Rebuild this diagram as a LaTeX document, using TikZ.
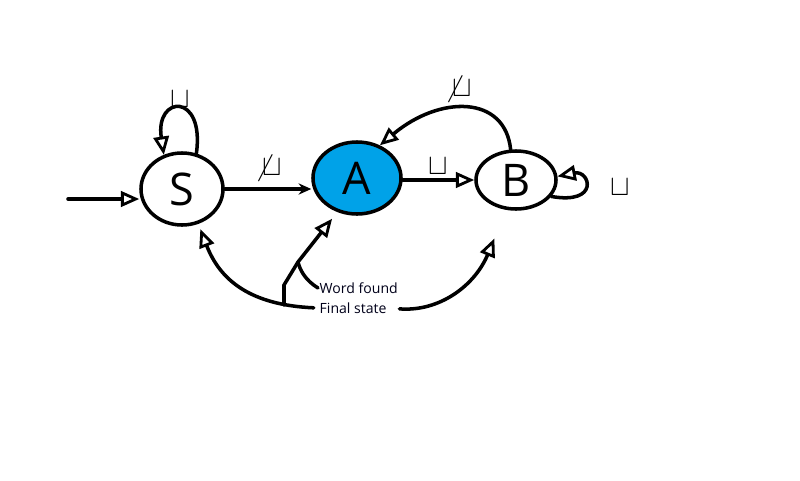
\documentclass[tikz,border=0pt]{standalone}
\usepackage{fontspec}
\setsansfont{Open Sans}
\usetikzlibrary{arrows.meta,shapes.geometric}
\definecolor{paintblue}{HTML}{00A2E8}
\tikzset{
  state/.style={ellipse, draw, line width=2.5pt, inner sep=0pt, font=\sffamily\fontsize{32}{32}\selectfont},
  conn/.style={line width=2.5pt, line cap=round},
  tri/.style={-{Triangle[open, length=13pt, width=11pt, line width=2pt]}},
  stl/.style={-{Stealth[length=9pt, width=8pt]}},
  lab/.style={font=\huge},
  txt/.style={font=\sffamily\fontsize{10}{11}\selectfont, text=black!90!blue, inner sep=1pt}
}
\begin{document}
\begin{tikzpicture}[x=0.025cm,y=-0.025cm]
\useasboundingbox (0,0) rectangle (800,480);
\node[state, minimum width=2.05cm, minimum height=1.8cm] (S) at (182,189) {S};
\node[state, fill=paintblue, minimum width=2.2cm, minimum height=1.8cm] (A) at (357,178) {A};
\node[state, minimum width=2.0cm, minimum height=1.45cm] (B) at (516,180) {B};
\coordinate (init) at (68,199);
\draw[conn, tri] (init) -- (init -| S.west);
\draw[conn, stl] (S.east) -- (A.west |- S.east) node[lab, midway, above, yshift=1pt] {$\not\sqcup$};
\draw[conn, tri] (A.east |- B.west) -- (B.west) node[lab, midway, above, yshift=-1pt] {$\sqcup$};
\draw[conn, tri] (B.100) .. controls (505,95) and (440,95) .. (A.55) node[lab, pos=0.55, above, yshift=0pt] {$\not\sqcup$};
\draw[conn, tri] (S.68) .. controls (205,92) and (155,95) .. (S.118) node[lab, pos=0.5, above, yshift=-4pt] {$\sqcup$};
\draw[conn, tri] (B.-25) .. controls (600,205) and (590,170) .. (B.5) node[lab, pos=0.5, right, xshift=14pt] {$\sqcup$};
\node[txt, anchor=west] (word) at (318,288) {Word found};
\node[txt, anchor=west] (final) at (318,308) {Final state};
\coordinate (k) at (284,305);
\coordinate (j) at (298,262);
\draw[conn, tri, shorten >=4pt, shorten <=3pt] (final.west) .. controls (250,305) and (220,280) .. (S.-65);
\draw[conn] (k) -- (284,285) -- (j);
\draw[conn] (word.west) .. controls (305,280) and (300,270) .. (j);
\draw[conn, tri, shorten >=6pt] (j) -- (A.240);
\draw[conn, tri, shorten >=22pt, shorten <=8pt] (final.east) .. controls (440,312) and (475,285) .. (B.-108);
\end{tikzpicture}
\end{document}
